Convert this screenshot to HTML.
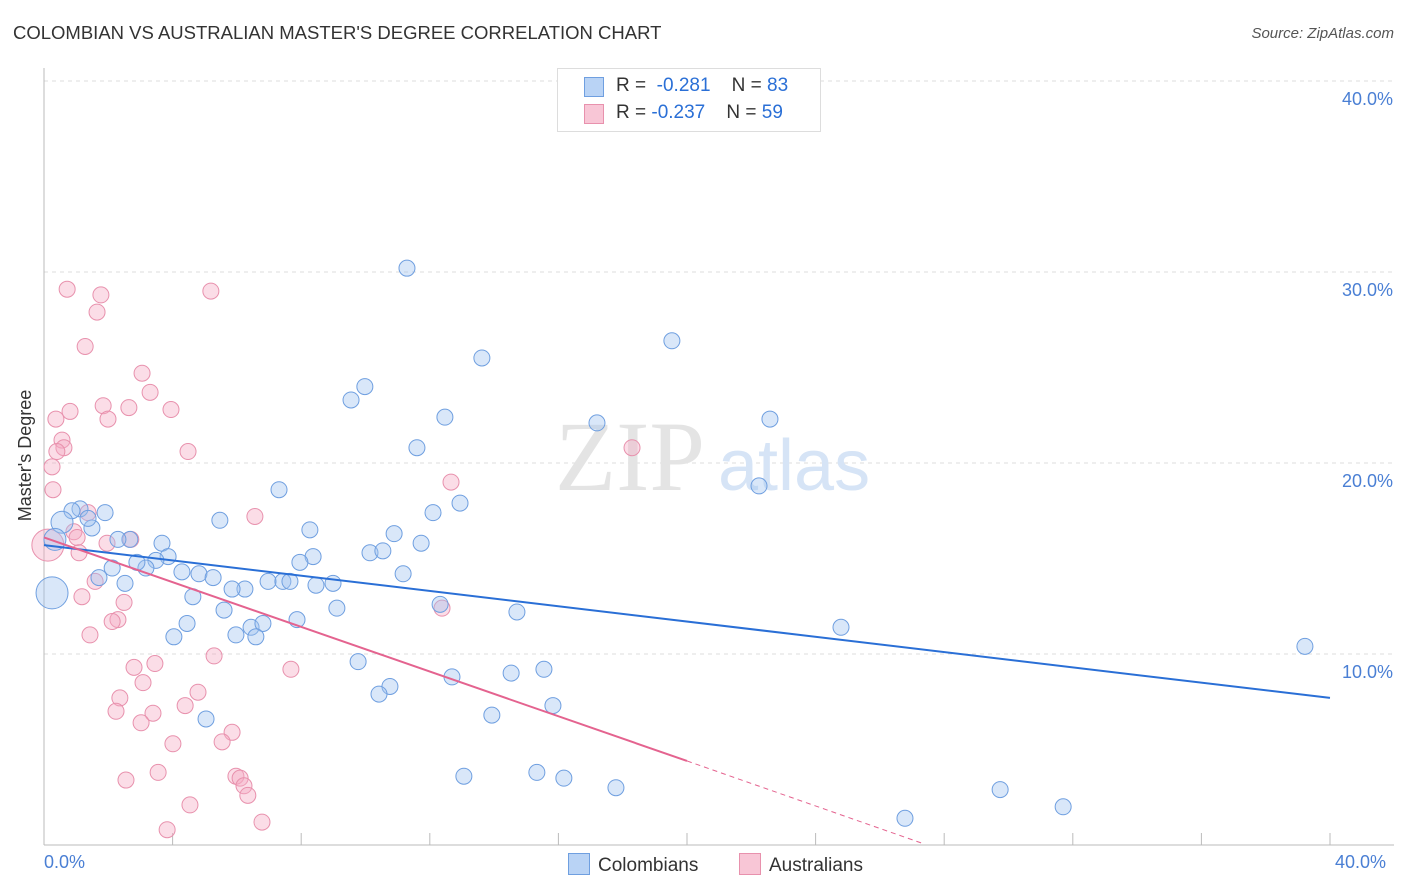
<!DOCTYPE html>
<html><head><meta charset="utf-8">
<style>
body{margin:0;background:#fff;font-family:"Liberation Sans",sans-serif;}
#wrap{position:relative;width:1406px;height:892px;overflow:hidden;}
.t{position:absolute;white-space:nowrap;}
</style></head><body>
<div id="wrap">
<div class="t" style="left:13px;top:22px;font-size:18.5px;color:#333;">COLOMBIAN VS AUSTRALIAN MASTER'S DEGREE CORRELATION CHART</div>
<div class="t" style="right:12px;top:25px;font-size:15px;color:#555;font-style:italic;">Source: ZipAtlas.com</div>
<svg id="svg" width="1406" height="892" style="position:absolute;left:0;top:0"></svg>
</div>
<script>
const blueX=[11.29,19.53,13.62,9.98,9.55,12.47,17.2,22.58,11.6,22.24,7.31,12.94,12.1,5.47,8.27,10.89,11.73,10.14,10.54,8.37,7.96,11.17,6.97,7.43,7.65,8.46,8.99,6.25,5.85,4.82,5.26,4.29,3.67,3.86,3.48,3.17,2.89,2.67,2.3,2.12,2.52,1.71,1.9,1.49,1.12,0.87,1.37,0.56,0.34,0.25,4.63,5.6,4.45,4.04,5.97,6.44,6.81,6.59,7.87,9.11,12.32,14.71,24.79,39.22,9.77,15.55,14.53,12.69,10.76,10.42,15.83,5.04,13.93,13.06,15.33,16.17,17.79,29.74,31.7,26.78];
const blueY=[30.2,26.4,25.5,24.0,23.3,22.4,22.1,22.3,20.8,18.8,18.6,17.9,17.4,17.0,16.5,16.3,15.8,15.3,15.4,15.1,14.8,14.2,13.8,13.8,13.8,13.6,13.7,13.4,13.4,14.2,14.0,14.3,15.8,15.1,14.9,14.5,14.8,16.0,16.0,14.5,13.7,14.0,17.4,16.6,17.6,17.5,17.1,16.9,16.0,13.2,13.0,12.3,11.6,10.9,11.0,11.4,11.6,10.9,11.8,12.4,12.6,12.2,11.4,10.4,9.6,9.2,9.0,8.8,8.3,7.9,7.3,6.6,6.8,3.6,3.8,3.5,3.0,2.9,2.0,1.4];
const blueSize=blueX.map((v,i)=>i===49?16:(i===47||i===48?11:8));
const pinkX=[0.72,1.77,5.19,1.65,1.28,3.05,3.3,0.81,1.84,2.64,3.95,0.37,1.99,0.56,0.62,0.4,4.48,18.29,0.25,0.28,12.66,6.56,1.37,0.93,1.03,0.12,1.96,2.7,1.09,1.59,1.18,2.49,2.3,2.12,12.38,1.43,5.29,3.45,2.8,7.68,3.08,4.79,2.36,4.39,2.24,3.39,3.02,5.85,5.54,4.01,3.55,2.55,5.97,6.1,6.22,6.34,4.54,3.83,6.78];
const pinkY=[29.1,28.8,29.0,27.9,26.1,24.7,23.7,22.7,23.0,22.9,22.8,22.3,22.3,21.2,20.8,20.6,20.6,20.8,19.8,18.6,19.0,17.2,17.4,16.4,16.1,15.7,15.8,16.0,15.3,13.8,13.0,12.7,11.8,11.7,12.4,11.0,9.9,9.5,9.3,9.2,8.5,8.0,7.7,7.3,7.0,6.9,6.4,5.9,5.4,5.3,3.8,3.4,3.6,3.5,3.1,2.6,2.1,0.8,1.2];
const pinkSize=pinkX.map((v,i)=>i===25?16:8);
const blueLine=[[0,15.7],[40,7.7]];
const pinkLine=[[0,16.1],[20,4.4]];
const pinkDash=[[20,4.4],[27.3,0.1]];
const yTicks=[10,20,30,40];
const yTickLabels=["10.0%","20.0%","30.0%","40.0%"];

const X=v=>44+v*32.15, Y=v=>845-v*19.1;
const svg=document.getElementById('svg'), NS='http://www.w3.org/2000/svg';
function mk(tag,attrs,name){const e=document.createElementNS(NS,tag);for(const k in attrs)e.setAttribute(k,attrs[k]);


svg.appendChild(e);return e;}
yTicks.forEach((t,i)=>{
 mk('line',{x1:44,x2:1394,y1:Y(t),y2:Y(t),stroke:'#ddd','stroke-dasharray':'4,4'},'grid-line');
 const tx=mk('text',{x:1393,y:Y(t)+24,'text-anchor':'end','font-size':18,fill:'#4a7fd4','font-family':'Liberation Sans'},'y-tick-label');tx.textContent=yTickLabels[i];
});
mk('line',{x1:44,x2:44,y1:68,y2:845,stroke:'#bbb'},'y-axis');
mk('line',{x1:44,x2:1394,y1:845,y2:845,stroke:'#bbb'},'x-axis');
for(let k=0;k<=10;k++){mk('line',{x1:X(k*4),x2:X(k*4),y1:833,y2:845,stroke:'#bbb'},'x-tick');}
let w=mk('text',{x:555,y:490,'font-size':100,fill:'#e4e4e4','font-family':'Liberation Serif'},'watermark-zip');w.textContent='ZIP';
w=mk('text',{x:718,y:490,'font-size':72,fill:'#d6e4f6','font-family':'Liberation Sans'},'watermark-atlas');w.textContent='atlas';
pinkX.forEach((v,i)=>mk('circle',{cx:X(v),cy:Y(pinkY[i]),r:pinkSize[i],fill:'rgba(244,170,195,0.4)',stroke:'#e891ad','stroke-width':1},'australian-point'));
blueX.forEach((v,i)=>mk('circle',{cx:X(v),cy:Y(blueY[i]),r:blueSize[i],fill:'rgba(160,195,240,0.4)',stroke:'#6f9fe0','stroke-width':1},'colombian-point'));
mk('line',{x1:X(blueLine[0][0]),y1:Y(blueLine[0][1]),x2:X(blueLine[1][0]),y2:Y(blueLine[1][1]),stroke:'#2a6fd6','stroke-width':2},'colombian-trend-line');
mk('line',{x1:X(pinkLine[0][0]),y1:Y(pinkLine[0][1]),x2:X(pinkLine[1][0]),y2:Y(pinkLine[1][1]),stroke:'#e4638f','stroke-width':2},'australian-trend-line');
mk('line',{x1:X(pinkDash[0][0]),y1:Y(pinkDash[0][1]),x2:X(pinkDash[1][0]),y2:Y(pinkDash[1][1]),stroke:'#e4638f','stroke-width':1,'stroke-dasharray':'5,4'},'australian-trend-extension');
</script>
<div class="t" style="left:44px;top:852px;font-size:18px;color:#4a7fd4;">0.0%</div>
<div class="t" style="left:1335px;top:852px;font-size:18px;color:#4a7fd4;">40.0%</div>
<div class="t" style="left:-40px;top:445px;font-size:18px;color:#333;transform:rotate(-90deg);">Master's Degree</div>
<div style="position:absolute;left:557px;top:68px;width:262px;height:62px;border:1px solid #ddd;background:#fff;font-size:19px;">
 <div style="position:absolute;left:26px;top:8px;width:18px;height:18px;background:#b9d3f5;border:1px solid #6f9fe0;"></div>
 <div class="t" style="left:58px;top:6px;color:#333;">R = <span style="color:#2a6fd6">&nbsp;-0.281</span>&nbsp;&nbsp;&nbsp; N = <span style="color:#2a6fd6">83</span></div>
 <div style="position:absolute;left:26px;top:35px;width:18px;height:18px;background:#f8c6d6;border:1px solid #e891ad;"></div>
 <div class="t" style="left:58px;top:33px;color:#333;">R = <span style="color:#2a6fd6">-0.237</span>&nbsp;&nbsp;&nbsp; N = <span style="color:#2a6fd6">59</span></div>
</div>
<div style="position:absolute;left:568px;top:853px;font-size:19px;color:#333;white-space:nowrap;">
 <span style="display:inline-block;width:20px;height:20px;background:#b9d3f5;border:1px solid #6f9fe0;vertical-align:-4px;margin-right:8px;"></span>Colombians</div>
<div style="position:absolute;left:739px;top:853px;font-size:19px;color:#333;white-space:nowrap;">
 <span style="display:inline-block;width:20px;height:20px;background:#f8c6d6;border:1px solid #e891ad;vertical-align:-4px;margin-right:8px;"></span>Australians</div>
</body></html>
